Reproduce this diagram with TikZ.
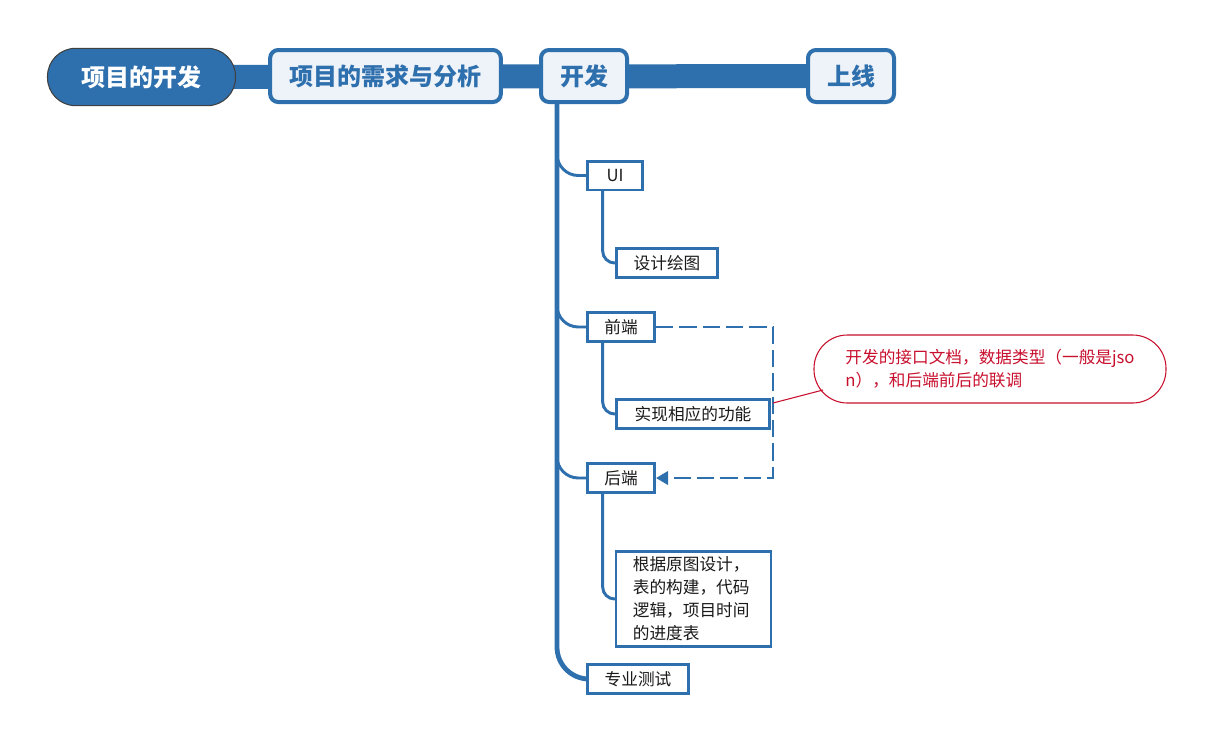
\documentclass[tikz,border=0pt]{standalone}
\usepackage{fontspec}
\setmainfont{Noto Sans CJK SC}
\usetikzlibrary{arrows.meta,backgrounds}
\definecolor{mblue}{HTML}{2E6FAD}
\definecolor{lfill}{HTML}{EEF3FA}
\definecolor{mred}{HTML}{C8102E}
\definecolor{txt}{HTML}{1A1A1A}
\tikzset{
  rootbox/.style={draw=black!75, line width=0.8pt, fill=mblue, text=white, font=\fontsize{18pt}{20pt}\selectfont\bfseries, rounded corners=21pt, minimum width=141pt, minimum height=43pt, inner sep=0pt},
  mainbox/.style={draw=mblue, line width=3pt, fill=lfill, text=mblue, font=\fontsize{18pt}{20pt}\selectfont\bfseries, rounded corners=6pt, minimum height=39pt, inner sep=0pt},
  subbox/.style={draw=mblue, line width=1.9pt, fill=white, text=txt, font=\fontsize{12.5pt}{15pt}\selectfont, minimum height=21.4pt, inner sep=0pt},
  trunkline/.style={draw=mblue, line width=3.6pt},
  branchline/.style={draw=mblue, line width=2.2pt},
  dashline/.style={draw=mblue, line width=1.9pt, dash pattern=on 13pt off 4.5pt},
  callout/.style={draw=mred, line width=0.8pt, fill=white, text=mred, rounded corners=25pt, minimum width=264pt, minimum height=51pt, inner sep=0pt, font=\fontsize{12.5pt}{17.5pt}\selectfont, align=left},
}
\begin{document}
\begin{tikzpicture}[x=0.75pt,y=-0.75pt]
\useasboundingbox (0,0) rectangle (1216,743);
% top row
\node[rootbox] (root) at (141.5,77) {项目的开发};
\node[mainbox, minimum width=173pt] (xq) at (385.5,76) {项目的需求与分析};
\node[mainbox, minimum width=64.5pt] (kf) at (584,76) {开发};
\node[mainbox, minimum width=64.5pt] (sx) at (851,76) {上线};
% children
\node[subbox, minimum width=41.6pt] (ui) at (615,175.5) {UI};
\node[subbox, minimum width=76pt] (sj) at (667,263) {设计绘图};
\node[subbox, minimum width=50.6pt] (qd) at (621,327) {前端};
\node[subbox, minimum width=115pt] (sx2) at (693,414) {实现相应的功能};
\node[subbox, minimum width=50.6pt] (hd) at (621,478) {后端};
\node[subbox, minimum width=116pt, minimum height=71.6pt, text width=91pt, align=left, font=\fontsize{12.5pt}{17.25pt}\selectfont] (gj) at (693.5,599) {根据原图设计，\\表的构建，代码\\逻辑，项目时间\\的进度表};
\node[subbox, minimum width=76pt] (zy) at (638,679) {专业测试};
% callout
\node[callout] (co) at (990,369) {开发的接口文档，数据类型（一般是jso\\n），和后端前后的联调};
% trunk and branches
\coordinate (t0) at (557,104);
\begin{scope}[on background layer]
\fill[white] (0,0) rectangle (1216,743);
\draw[draw=mblue, line width=18pt] (root.center) -- (sx.center);
\draw[trunkline, rounded corners=24pt] (t0) |- (zy.west);
\draw[branchline, rounded corners=16pt] (t0) |- (ui.west);
\draw[branchline, rounded corners=16pt] (t0) |- (qd.west);
\draw[branchline, rounded corners=16pt] (t0) |- (hd.west);
\draw[branchline, rounded corners=9pt] ([xshift=12.5pt]ui.south west) |- (sj.west);
\draw[branchline, rounded corners=9pt] ([xshift=12.5pt]qd.south west) |- (sx2.west);
\draw[branchline, rounded corners=9pt] ([xshift=12.5pt]hd.south west) |- (gj.west);
\end{scope}
% dashed relation
\draw[dashline, -{Triangle[length=9pt,width=10pt]}] (qd.east) -- ++(117,0) |- (hd.east);
% callout connector
\coordinate (cp) at (773,403);
\coordinate (ce) at (823,390);
\draw[draw=mred, line width=0.8pt] (cp) -- (ce);
\end{tikzpicture}
\end{document}
